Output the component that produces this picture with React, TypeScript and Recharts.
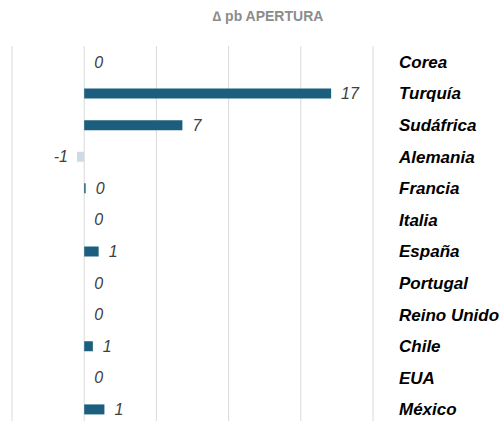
import { ComposedChart, Bar, Line, XAxis, YAxis, CartesianGrid, Cell, LabelList } from 'recharts'

const countries = ['Corea', 'Turquía', 'Sudáfrica', 'Alemania', 'Francia', 'Italia', 'España', 'Portugal', 'Reino Unido', 'Chile', 'EUA', 'México']
const deltaPb = [0, 17.1, 6.8, -0.5, 0.1, 0, 1.0, 0, 0, 0.6, 0, 1.4]
const xTicks = [-5, 0, 5, 10, 15, 20]

const data = countries.map((name, i) => ({ name, value: deltaPb[i] }))

const POS = '#1b5e7d'
const NEG = '#cfdae5'
const FONT = '"Liberation Sans", Arial, Helvetica, sans-serif'

function CountryTick(props: any) {
  const { x, y, payload } = props
  return (
    <text x={x} y={y} dx={18} dy="0.36em" textAnchor="start" fontFamily={FONT} fontSize={17}
      fontWeight="bold" fontStyle="italic" fill="#000">
      {payload.value}
    </text>
  )
}

// labels sit on the (invisible) line points, so zero values get one too
function ValueLabel(props: any) {
  const { x, y, value } = props
  const neg = value < 0
  return (
    <text x={neg ? x - 9 : x + 10} y={y} dy="0.36em"
      textAnchor={neg ? 'end' : 'start'} fontFamily={FONT} fontSize={16} fontStyle="italic" fill="#404040">
      {Number(value).toFixed(0)}
    </text>
  )
}

export default function App() {
  return (
    <div style={{ position: 'relative', width: 501, height: 421, overflow: 'hidden' }}>
      <style>{'body{margin:0;overflow:hidden}'}</style>
      <div style={{ position: 'absolute', top: 8, left: 268, transform: 'translateX(-50%)', whiteSpace: 'nowrap',
        fontFamily: FONT, fontSize: 14, fontWeight: 'bold', color: '#8c8c8c' }}>
        ∆ pb APERTURA
      </div>
      <ComposedChart width={501} height={425} data={data} layout="vertical"
        margin={{ top: 46, right: 0, left: 12, bottom: 0 }}>
        <CartesianGrid horizontal={false} stroke="#d9d9d9" />
        <XAxis type="number" domain={[-5, 20]} ticks={xTicks} hide />
        <YAxis type="category" dataKey="name" orientation="right" width={128}
          axisLine={false} tickLine={false} tick={<CountryTick />} interval={0} />
        <Bar dataKey="value" barSize={10} isAnimationActive={false}>
          {data.map((d) => <Cell key={d.name} fill={d.value < 0 ? NEG : POS} />)}
        </Bar>
        <Line dataKey="value" stroke="none" dot={false} activeDot={false} isAnimationActive={false}>
          <LabelList dataKey="value" content={<ValueLabel />} />
        </Line>
      </ComposedChart>
    </div>
  )
}
